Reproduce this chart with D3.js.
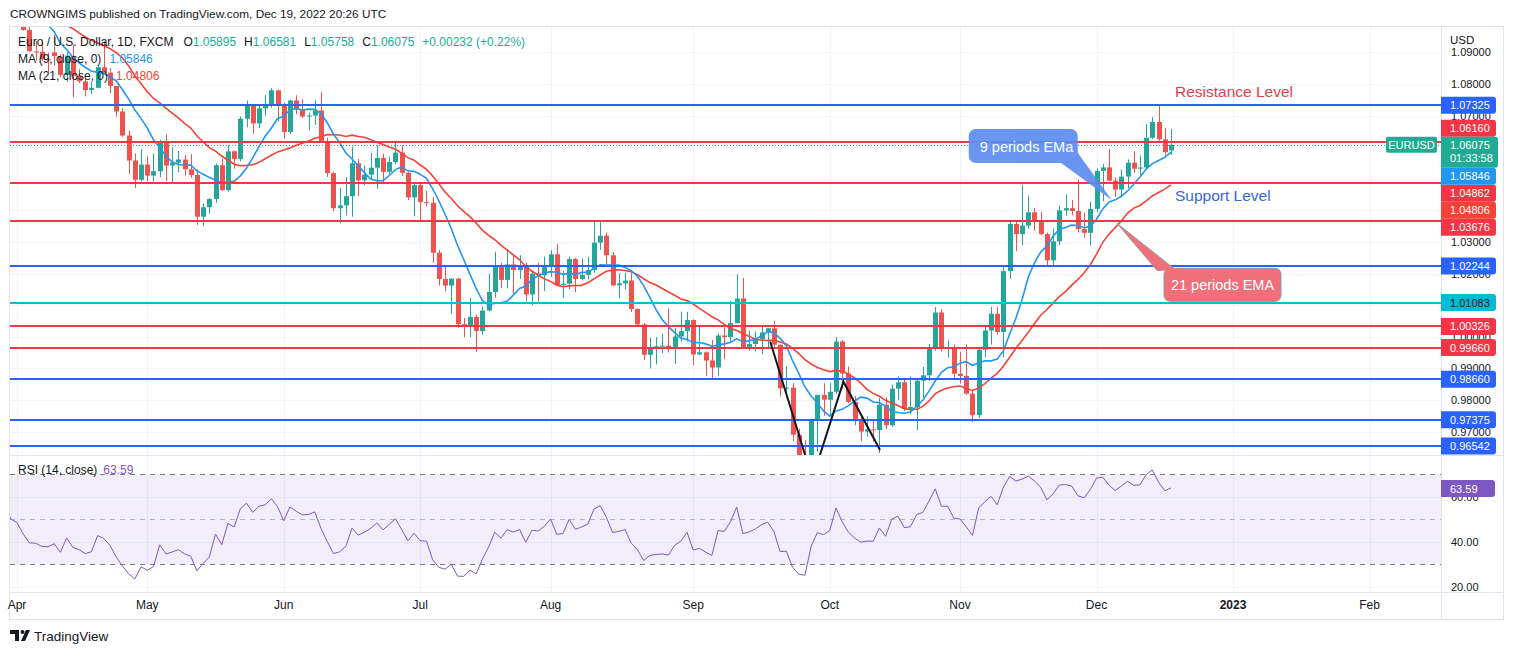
<!DOCTYPE html>
<html><head><meta charset="utf-8">
<script src="https://cdn.jsdelivr.net/npm/d3@7"></script>
<style>
body{margin:0;background:#fff;}
svg{display:block;font-family:"Liberation Sans",Arial,sans-serif;}
</style>
</head><body>
<svg id="c" width="1514" height="655"></svg>
<script>
// ---------- DATA ----------
// closes before the first visible bar (Feb 1 - Mar 31 2022), used for MA / RSI warm-up
const warmupCloses = [1.1235,1.1303,1.1440,1.1455,1.1440,1.1417,1.1424,1.1428,1.1349,1.1306,1.1357,1.1374,1.1361,1.1322,1.1308,1.1327,1.1309,1.1192,1.1270,1.1219,
 1.1125,1.1118,1.1065,1.0927,1.0855,1.0905,1.1075,1.0985,1.0913,1.0942,1.0955,1.1034,1.1093,1.1051,1.1016,1.1030,1.1005,1.0998,1.0984,1.0984,1.1087,1.1157,1.1067];

// daily bars from Apr 1 2022 to Dec 19 2022 (weekdays)
const opens = [1.1066,1.1044,1.0971,1.0903,1.0902,1.0878,1.0900,1.0887,1.0829,1.0889,1.0826,1.0808,1.0781,1.0788,1.0853,1.0836,1.0794,1.0713,1.0637,1.0558,1.0497,
 1.0545,1.0510,1.0524,1.0617,1.0542,1.0551,1.0561,1.0530,1.0512,1.0380,1.0410,1.0436,1.0543,1.0464,1.0587,1.0562,1.0690,1.0734,1.0675,1.0723,1.0733,1.0780,
 1.0735,1.0648,1.0748,1.0720,1.0697,1.0700,1.0716,1.0616,1.0518,1.0407,1.0416,1.0445,1.0549,1.0495,1.0513,1.0535,1.0566,1.0522,1.0553,1.0583,1.0519,1.0441,
 1.0480,1.0426,1.0424,1.0266,1.0183,1.0162,1.0184,1.0040,1.0036,1.0063,1.0018,1.0083,1.0142,1.0225,1.0180,1.0229,1.0211,1.0225,1.0134,1.0200,1.0195,
 1.0221,1.0261,1.0164,1.0168,1.0246,1.0183,1.0196,1.0211,1.0298,1.0320,1.0258,1.0163,1.0169,1.0178,1.0088,1.0039,0.9943,0.9966,0.9970,0.9972,0.9964,1.0001,1.0018,
 1.0053,0.9944,0.9951,0.9925,0.9903,1.0004,0.9999,1.0043,1.0121,0.9968,0.9977,0.9992,1.0014,1.0027,0.9975,0.9837,0.9839,0.9690,0.9606,0.9592,0.9734,0.9816,
 0.9801,0.9826,0.9985,0.9884,0.9794,0.9740,0.9700,0.9707,0.9705,0.9785,0.9720,0.9836,0.9856,0.9772,0.9778,0.9861,0.9878,0.9965,1.0077,0.9965,0.9966,
 0.9883,0.9876,0.9820,0.9752,0.9959,1.0020,1.0073,1.0015,1.0208,1.0357,1.0325,1.0352,1.0394,1.0363,1.0325,1.0242,1.0302,1.0400,1.0407,1.0398,1.0341,1.0329,
 1.0405,1.0525,1.0536,1.0494,1.0466,1.0507,1.0551,1.0532,1.0536,1.0630,1.0680,1.0625,1.05895];
const highs = [1.1076,1.1054,1.0998,1.0936,1.0935,1.0899,1.0955,1.0894,1.0900,1.0925,1.0847,1.0817,1.0808,1.0860,1.0936,1.0850,1.0794,1.0723,1.0653,1.0580,1.0594,
 1.0571,1.0580,1.0623,1.0641,1.0600,1.0588,1.0576,1.0578,1.0530,1.0422,1.0440,1.0548,1.0564,1.0607,1.0589,1.0697,1.0748,1.0737,1.0733,1.0765,1.0787,1.0782,
 1.0740,1.0750,1.0764,1.0752,1.0710,1.0748,1.0774,1.0630,1.0522,1.0471,1.0506,1.0601,1.0563,1.0542,1.0582,1.0606,1.0580,1.0570,1.0614,1.0606,1.0521,1.0486,
 1.0484,1.0462,1.0443,1.0275,1.0222,1.0186,1.0187,1.0060,1.0123,1.0070,1.0096,1.0200,1.0269,1.0234,1.0278,1.0257,1.0258,1.0235,1.0210,1.0234,1.0254,
 1.0274,1.0294,1.0210,1.0254,1.0249,1.0248,1.0253,1.0368,1.0368,1.0330,1.0268,1.0202,1.0202,1.0203,1.0091,1.0043,0.9998,0.9999,1.0010,1.0090,1.0028,1.0080,1.0079,
 1.0055,1.0034,0.9953,0.9990,1.0010,1.0030,1.0114,1.0198,1.0187,1.0020,1.0017,1.0037,1.0028,1.0051,0.9975,0.9907,0.9853,0.9709,0.9673,0.9737,0.9817,0.9853,
 0.9854,0.9999,0.9990,0.9906,0.9812,0.9747,0.9748,0.9735,0.9806,0.9808,0.9849,0.9875,0.9870,0.9875,0.9869,0.9905,0.9977,1.0094,1.0088,0.9988,0.9975,
 0.9953,0.9976,0.9830,0.9964,1.0034,1.0095,1.0094,1.0224,1.0364,1.0365,1.0481,1.0447,1.0408,1.0395,1.0330,1.0342,1.0415,1.0449,1.0433,1.0497,1.0393,1.0428,
 1.0533,1.0546,1.0594,1.0505,1.0530,1.0561,1.0588,1.0574,1.0673,1.0695,1.0736,1.0660,1.06581];
const lows = [1.1028,1.0968,1.0902,1.0874,1.0873,1.0836,1.0858,1.0822,1.0808,1.0758,1.0803,1.0761,1.0768,1.0786,1.0831,1.0771,1.0697,1.0633,1.0515,1.0471,1.0493,
 1.0493,1.0492,1.0505,1.0493,1.0483,1.0520,1.0510,1.0503,1.0354,1.0350,1.0390,1.0424,1.0462,1.0460,1.0532,1.0555,1.0663,1.0642,1.0660,1.0700,1.0725,1.0681,
 1.0627,1.0642,1.0704,1.0693,1.0653,1.0671,1.0614,1.0506,1.0397,1.0359,1.0384,1.0380,1.0445,1.0480,1.0500,1.0468,1.0486,1.0513,1.0546,1.0509,1.0433,1.0381,
 1.0365,1.0413,1.0234,1.0162,1.0144,1.0072,1.0028,0.9999,0.9998,0.9952,1.0006,1.0080,1.0124,1.0154,1.0153,1.0130,1.0183,1.0112,1.0100,1.0113,1.0145,
 1.0190,1.0160,1.0123,1.0150,1.0141,1.0180,1.0182,1.0202,1.0275,1.0230,1.0160,1.0122,1.0150,1.0078,1.0034,0.9926,0.9900,0.9913,0.9948,0.9950,0.9914,0.9985,0.9985,
 0.9910,0.9942,0.9876,0.9864,0.9877,0.9929,0.9985,1.0043,0.9966,0.9955,0.9954,0.9945,0.9966,0.9968,0.9811,0.9807,0.9670,0.9553,0.9590,0.9535,0.9635,0.9750,
 0.9752,0.9819,0.9835,0.9790,0.9720,0.9670,0.9685,0.9668,0.9632,0.9707,0.9715,0.9800,0.9765,0.9755,0.9704,0.9807,0.9860,0.9956,0.9953,0.9935,0.9870,
 0.9852,0.9816,0.9730,0.9743,0.9935,0.9975,1.0006,0.9935,1.0183,1.0271,1.0290,1.0341,1.0335,1.0321,1.0222,1.0226,1.0290,1.0383,1.0384,1.0330,1.0313,1.0289,
 1.0394,1.0429,1.0492,1.0443,1.0444,1.0470,1.0518,1.0511,1.0530,1.0625,1.0620,1.0574,1.05758];
const closes = [1.1046,1.0971,1.0904,1.0902,1.0878,1.0875,1.0888,1.0829,1.0890,1.0826,1.0809,1.0781,1.0788,1.0853,1.0836,1.0794,1.0713,1.0637,1.0558,1.0497,1.0545,
 1.0510,1.0524,1.0617,1.0542,1.0551,1.0561,1.0530,1.0512,1.0380,1.0410,1.0436,1.0543,1.0464,1.0587,1.0562,1.0690,1.0734,1.0675,1.0723,1.0733,1.0780,1.0735,
 1.0648,1.0748,1.0720,1.0697,1.0700,1.0716,1.0616,1.0518,1.0407,1.0416,1.0445,1.0549,1.0495,1.0513,1.0535,1.0566,1.0522,1.0553,1.0583,1.0519,1.0441,1.0480,
 1.0426,1.0424,1.0266,1.0183,1.0162,1.0184,1.0040,1.0036,1.0063,1.0018,1.0083,1.0142,1.0225,1.0180,1.0229,1.0211,1.0225,1.0134,1.0200,1.0195,1.0221,
 1.0261,1.0164,1.0168,1.0246,1.0183,1.0196,1.0211,1.0298,1.0320,1.0258,1.0163,1.0169,1.0178,1.0088,1.0039,0.9943,0.9966,0.9970,0.9972,0.9964,1.0001,1.0018,1.0053,
 0.9944,0.9951,0.9925,0.9903,1.0004,0.9999,1.0043,1.0121,0.9968,0.9977,0.9992,1.0014,1.0027,0.9975,0.9837,0.9839,0.9690,0.9606,0.9592,0.9734,0.9816,0.9801,
 0.9826,0.9985,0.9884,0.9794,0.9740,0.9700,0.9707,0.9705,0.9785,0.9720,0.9836,0.9856,0.9772,0.9778,0.9861,0.9878,0.9965,1.0077,0.9965,0.9966,0.9883,
 0.9876,0.9820,0.9752,0.9959,1.0020,1.0073,1.0015,1.0208,1.0357,1.0325,1.0352,1.0394,1.0363,1.0325,1.0242,1.0302,1.0400,1.0407,1.0398,1.0341,1.0329,1.0405,
 1.0525,1.0536,1.0494,1.0466,1.0507,1.0551,1.0532,1.0536,1.0630,1.0680,1.0625,1.05843,1.06075];

const monthLabels = ["Apr","May","Jun","Jul","Aug","Sep","Oct","Nov","Dec","2023","Feb"];
const priceTicks = [1.09,1.08,1.07,1.06,1.05,1.04,1.03,1.02,1.01,1.00,0.99,0.98,0.97];
const rsiTicks = [20,40,60];
const rsiBands = [70,50,30];

// horizontal levels drawn on the chart
const levelPrices = [1.07325,1.06160,1.04862,1.03676,1.02244,1.01083,1.00326,0.99660,0.98660,0.97375,0.96542];
const levelKinds  = ["blue","red","red","red","blue","cyan","red","red","blue","blue","blue"];

// indicator values shown in the legend / scale
const ma9Value = 1.05846, ma21Value = 1.04806, rsiValue = 63.59;
const countdown = "01:33:58";

// hand-drawn zigzag (bar index, price)
const zigzag = [[121.4,0.9985],[128.2,0.9551],[133.2,0.9858],[139.1,0.9642]];
// callout anchors (bar index, price)
const ema9Tip = [176.45,1.0433], ema21Tip = [177.3,1.0359];
const resistanceAnchor = [186.65,1.0759], supportAnchor = [186.65,1.0430];

// ---------- SETUP ----------
const svg = d3.select('#c');
const W = 1514, H = 655;
const L = 10, R = 1441, AX = 1503;
const mainTop = 27, mainBot = 455, rsiTop = 456, rsiBot = 592, axBot = 619;

const colUp = '#26a69a', colDn = '#ef5350';
const colBlue = '#2962ff', colRed = '#f23645', colCyan = '#00bcd4';
const colMA9 = '#2196f3', colMA21 = '#f44336', colRSI = '#7e57c2', colTeal = '#22ab94';
const kindColor = {blue: colBlue, red: colRed, cyan: colCyan};

const x = d3.scaleLinear().domain([-1.128, 229.52]).range([L, R]);
const y = d3.scaleLinear().domain([0.96259, 1.09804]).range([mainBot, mainTop]);
const yr = d3.scaleLinear().domain([17.64, 78.09]).range([rsiBot, rsiTop]);

const defs = svg.append('defs');
defs.append('clipPath').attr('id','clipMain').append('rect').attr('x',L).attr('y',mainTop).attr('width',R-L).attr('height',mainBot-mainTop);
defs.append('clipPath').attr('id','clipRsi').append('rect').attr('x',L).attr('y',rsiTop).attr('width',R-L).attr('height',rsiBot-rsiTop);

svg.append('rect').attr('width',W).attr('height',H).attr('fill','#fff');

// trading days and month ticks
const days = d3.timeDay.range(new Date(2022,3,1), new Date(2023,2,1)).filter(d => d.getDay()!==0 && d.getDay()!==6);
const monthTicks = [];
days.forEach((d,i) => { if (i===0 || d.getMonth()!==days[i-1].getMonth()) monthTicks.push(i); });

// ---------- GRID ----------
const grid = svg.append('g').attr('stroke','#f0f3fa').attr('stroke-width',1);
priceTicks.forEach(p => { const yy = Math.round(y(p))+0.5; if (yy>mainTop && yy<mainBot) grid.append('line').attr('x1',L).attr('x2',R).attr('y1',yy).attr('y2',yy); });
rsiTicks.forEach(v => { const yy = Math.round(yr(v))+0.5; grid.append('line').attr('x1',L).attr('x2',R).attr('y1',yy).attr('y2',yy); });
monthTicks.forEach(i => { const xx = Math.round(x(i))+0.5;
  grid.append('line').attr('x1',xx).attr('x2',xx).attr('y1',mainTop).attr('y2',mainBot);
  grid.append('line').attr('x1',xx).attr('x2',xx).attr('y1',rsiTop).attr('y2',rsiBot); });

// ---------- MAIN PANEL ----------
const main = svg.append('g').attr('clip-path','url(#clipMain)');
const bars = opens.map((o,i) => ({i, o, c: closes[i], h: Math.max(highs[i], o, closes[i]), l: Math.min(lows[i], o, closes[i])}));

// price line (dotted)
const last = bars[bars.length-1];
main.append('line').attr('x1',L).attr('x2',R).attr('y1',Math.round(y(last.c))+0.5).attr('y2',Math.round(y(last.c))+0.5)
  .attr('stroke','#22ab94').attr('stroke-width',1).attr('stroke-dasharray','1,2');

// candles
main.append('g').selectAll('line').data(bars).join('line')
  .attr('x1',d=>Math.round(x(d.i))+0.5).attr('x2',d=>Math.round(x(d.i))+0.5)
  .attr('y1',d=>y(d.h)).attr('y2',d=>y(d.l))
  .attr('stroke',d=>d.c>=d.o?colUp:colDn).attr('stroke-width',1);
main.append('g').selectAll('rect').data(bars).join('rect')
  .attr('x',d=>Math.round(x(d.i))-2).attr('width',5)
  .attr('y',d=>y(Math.max(d.o,d.c))).attr('height',d=>Math.max(1,Math.abs(y(d.o)-y(d.c))))
  .attr('fill',d=>d.c>=d.o?colUp:colDn);

// moving averages
const allCloses = warmupCloses.concat(closes);
const off = warmupCloses.length;
function sma(n){
  const out=[];
  for (let k=n-1;k<allCloses.length;k++){
    const i = k-off; if (i < -3) continue;
    out.push({i, v: d3.mean(allCloses.slice(k-n+1,k+1))});
  }
  return out;
}
const line = d3.line().x(d=>x(d.i)).y(d=>y(d.v));
main.append('path').attr('d',line(sma(21))).attr('fill','none').attr('stroke',colMA21).attr('stroke-width',1.6);
main.append('path').attr('d',line(sma(9))).attr('fill','none').attr('stroke',colMA9).attr('stroke-width',1.6);

// horizontal levels
levelPrices.forEach((p,k) => {
  const yy = Math.round(y(p));
  main.append('line').attr('x1',L).attr('x2',R).attr('y1',yy).attr('y2',yy)
    .attr('stroke',kindColor[levelKinds[k]]).attr('stroke-width',2);
});

// zigzag
main.append('path').attr('d',d3.line().x(d=>x(d[0])).y(d=>y(d[1]))(zigzag))
  .attr('fill','none').attr('stroke','#131722').attr('stroke-width',2);

// callouts
(function(){
  const tx = x(ema9Tip[0]), ty = y(ema9Tip[1]);
  const g = svg.append('g').attr('opacity',0.92);
  g.append('path').attr('d',`M${tx-52},${ty-38} L${tx},${ty} L${tx-36},${ty-50} Z`).attr('fill','#5b8def');
  g.append('rect').attr('x',tx-143).attr('y',ty-71).attr('width',109).attr('height',34).attr('rx',7).attr('fill','#5b8def');
  svg.append('text').attr('x',tx-132).attr('y',ty-48).attr('fill','#fff').attr('font-size',14.5).text('9 periods EMa');
})();
(function(){
  const tx = x(ema21Tip[0]), ty = y(ema21Tip[1]);
  const g = svg.append('g');
  g.append('path').attr('d',`M${tx+40},${ty+47} L${tx},${ty} L${tx+58},${ty+46} Z`).attr('fill','#f0707a').attr('stroke','#9598a1').attr('stroke-width',1);
  g.append('rect').attr('x',tx+47).attr('y',ty+45).attr('width',117).attr('height',33).attr('rx',6).attr('fill','#f0707a').attr('stroke','#9598a1').attr('stroke-width',1);
  g.append('path').attr('d',`M${tx+41},${ty+46.5} L${tx+58},${ty+45.5}`).attr('stroke','#f0707a').attr('stroke-width',2);
  g.append('text').attr('x',tx+105.5).attr('y',ty+66.5).attr('text-anchor','middle').attr('fill','#fff').attr('font-size',14.5).text('21 periods EMA');
})();
svg.append('text').attr('x',x(resistanceAnchor[0])).attr('y',y(resistanceAnchor[1])).attr('fill','#e5404f').attr('font-size',15.5).text('Resistance Level');
svg.append('text').attr('x',x(supportAnchor[0])).attr('y',y(supportAnchor[1])).attr('fill','#3a66d6').attr('font-size',15.5).text('Support Level');

// ---------- RSI ----------
const rsiG = svg.append('g').attr('clip-path','url(#clipRsi)');
rsiG.append('rect').attr('x',L).attr('width',R-L).attr('y',yr(70)).attr('height',yr(30)-yr(70)).attr('fill','rgba(126,87,194,0.1)');
rsiBands.forEach(v => rsiG.append('line').attr('x1',L).attr('x2',R).attr('y1',Math.round(yr(v))+0.5).attr('y2',Math.round(yr(v))+0.5)
  .attr('stroke', v===50 ? '#b2b5be' : '#787b86').attr('stroke-dasharray','5,5').attr('stroke-width',1));
const rsi = [];
{
  let ag=0, al=0;
  for (let k=1;k<allCloses.length;k++){
    const ch = allCloses[k]-allCloses[k-1], g = Math.max(ch,0), lo = Math.max(-ch,0);
    if (k<=14){ ag+=g; al+=lo; if(k===14){ ag/=14; al/=14; } else continue; }
    else { ag=(ag*13+g)/14; al=(al*13+lo)/14; }
    const i = k-off; if (i < -3) continue;
    rsi.push({i, v: al===0?100:100-100/(1+ag/al)});
  }
}
rsiG.append('path').attr('d',d3.line().x(d=>x(d.i)).y(d=>yr(d.v))(rsi)).attr('fill','none').attr('stroke',colRSI).attr('stroke-width',1);

// ---------- FRAME ----------
const fr = svg.append('g').attr('stroke','#e0e3eb').attr('stroke-width',1).attr('fill','none');
fr.append('rect').attr('x',L-0.5).attr('y',mainTop-0.5).attr('width',AX-L+1).attr('height',axBot-mainTop+1);
fr.append('line').attr('x1',R+0.5).attr('x2',R+0.5).attr('y1',mainTop).attr('y2',axBot);
fr.append('line').attr('x1',L).attr('x2',AX).attr('y1',mainBot+0.5).attr('y2',mainBot+0.5);
fr.append('line').attr('x1',L).attr('x2',AX).attr('y1',rsiBot+0.5).attr('y2',rsiBot+0.5);

// ---------- PRICE AXIS ----------
const axG = svg.append('g').attr('font-size',11).attr('fill','#131722');
priceTicks.forEach(p => { const yy=y(p); if (yy>mainTop+4 && yy<mainBot-4) axG.append('text').attr('x',R+10).attr('y',yy+4).text(p.toFixed(5)); });
rsiTicks.forEach(v => axG.append('text').attr('x',R+10).attr('y',yr(v)+4).text(v.toFixed(2)));
axG.append('rect').attr('x',R+1).attr('y',mainTop).attr('width',AX-R-2).attr('height',21).attr('fill','#fff');
axG.append('text').attr('x',R+9).attr('y',mainTop+17).attr('font-size',11.5).text('USD');

// badges with collision resolution around the last-price label
const bh = 17;
const priceY = y(last.c);
const anchorTop = priceY - 8, anchorBot = anchorTop + 31;
let badges = levelPrices.map((p,k)=>({p, col: kindColor[levelKinds[k]], txt: levelKinds[k]==='cyan' ? '#131722' : '#fff'}));
badges.push({p: ma9Value, col: colMA9, txt:'#fff'});
badges.push({p: ma21Value, col: colMA21, txt:'#fff'});
badges.forEach(b => b.dy = y(b.p));
const above = badges.filter(b=>b.dy<priceY).sort((a,b)=>b.dy-a.dy);
const below = badges.filter(b=>b.dy>=priceY).sort((a,b)=>a.dy-b.dy);
let lim = anchorTop; above.forEach(b => { b.cy = Math.min(b.dy, lim - bh/2); lim = b.cy - bh/2; });
lim = anchorBot; below.forEach(b => { b.cy = Math.max(b.dy, lim + bh/2); lim = b.cy + bh/2; });
function badgePath(x0,y0,w,h,r){ return `M${x0},${y0} H${x0+w-r} Q${x0+w},${y0} ${x0+w},${y0+r} V${y0+h-r} Q${x0+w},${y0+h} ${x0+w-r},${y0+h} H${x0} Z`; }
const bg = svg.append('g').attr('font-size',11);
badges.forEach(b => {
  bg.append('path').attr('d',badgePath(R,b.cy-bh/2,55,bh,3)).attr('fill',b.col);
  bg.append('text').attr('x',R+9).attr('y',b.cy+4).attr('fill',b.txt).text(b.p.toFixed(5));
});
// last price badge
bg.append('path').attr('d',badgePath(R,anchorTop,57,31,3)).attr('fill',colTeal);
bg.append('text').attr('x',R+9).attr('y',priceY+4).attr('fill','#fff').text(last.c.toFixed(5));
bg.append('text').attr('x',R+9).attr('y',priceY+17).attr('fill','#fff').text(countdown);
// symbol label
bg.append('rect').attr('x',R-55).attr('y',anchorTop).attr('width',51).attr('height',16).attr('rx',2).attr('fill',colTeal);
bg.append('text').attr('x',R-29.5).attr('y',anchorTop+12).attr('text-anchor','middle').attr('fill','#fff').text('EURUSD');
// RSI badge
bg.append('path').attr('d',badgePath(R,yr(rsiValue)-bh/2,54,bh,3)).attr('fill',colRSI);
bg.append('text').attr('x',R+9).attr('y',yr(rsiValue)+4).attr('fill','#fff').text(rsiValue.toFixed(2));

// ---------- TIME AXIS ----------
const tg = svg.append('g').attr('font-size',12).attr('fill','#131722').attr('text-anchor','middle');
monthTicks.forEach((i,k) => {
  if (k>=monthLabels.length) return;
  const t = tg.append('text').attr('x',x(i)).attr('y',609).text(monthLabels[k]);
  if (/^\d{4}$/.test(monthLabels[k])) t.attr('font-weight','bold');
});
// ---------- LEGENDS ----------
svg.append('text').attr('x',10).attr('y',18).attr('font-size',11.8).attr('fill','#131722')
  .text('CROWNGIMS published on TradingView.com, Dec 19, 2022 20:26 UTC');
const lg = svg.append('g').attr('font-size',12);
const prevC = closes[closes.length-2];
const chg = last.c - prevC, pct = chg/prevC*100;
const t1 = lg.append('text').attr('x',18).attr('y',46).attr('fill','#131722');
t1.append('tspan').text('Euro / U.S. Dollar, 1D, FXCM');
[['O',last.o],['H',last.h],['L',last.l],['C',last.c]].forEach(([k,v],j) => {
  t1.append('tspan').attr('dx', j===0?10:8).text(k);
  t1.append('tspan').attr('fill',colTeal).text(v.toFixed(5));
});
t1.append('tspan').attr('dx',8).attr('fill',colTeal).text((chg>=0?'+':'')+chg.toFixed(5)+' ('+(pct>=0?'+':'')+pct.toFixed(2)+'%)');
const t2 = lg.append('text').attr('x',18).attr('y',63).attr('fill','#131722');
t2.append('tspan').text('MA (9, close, 0)');
t2.append('tspan').attr('dx',8).attr('fill',colMA9).text(ma9Value.toFixed(5));
const t3 = lg.append('text').attr('x',18).attr('y',80).attr('fill','#131722');
t3.append('tspan').text('MA (21, close, 0)');
t3.append('tspan').attr('dx',8).attr('fill',colMA21).text(ma21Value.toFixed(5));
const t4 = lg.append('text').attr('x',18).attr('y',474).attr('fill','#131722');
t4.append('tspan').text('RSI (14, close)');
t4.append('tspan').attr('dx',6).attr('fill',colRSI).text(rsiValue.toFixed(2));

// ---------- FOOTER LOGO ----------
const logo = svg.append('g').attr('fill','#131722');
logo.append('path').attr('d','M10,630 h9 v11 h-4 v-7 h-5 Z');
logo.append('circle').attr('cx',22.5).attr('cy',632).attr('r',2);
logo.append('path').attr('d','M26,630 h4 l-5,11 h-4 Z');
logo.append('text').attr('x',34).attr('y',641).attr('font-size',13.5).text('TradingView');
</script>
</body></html>
